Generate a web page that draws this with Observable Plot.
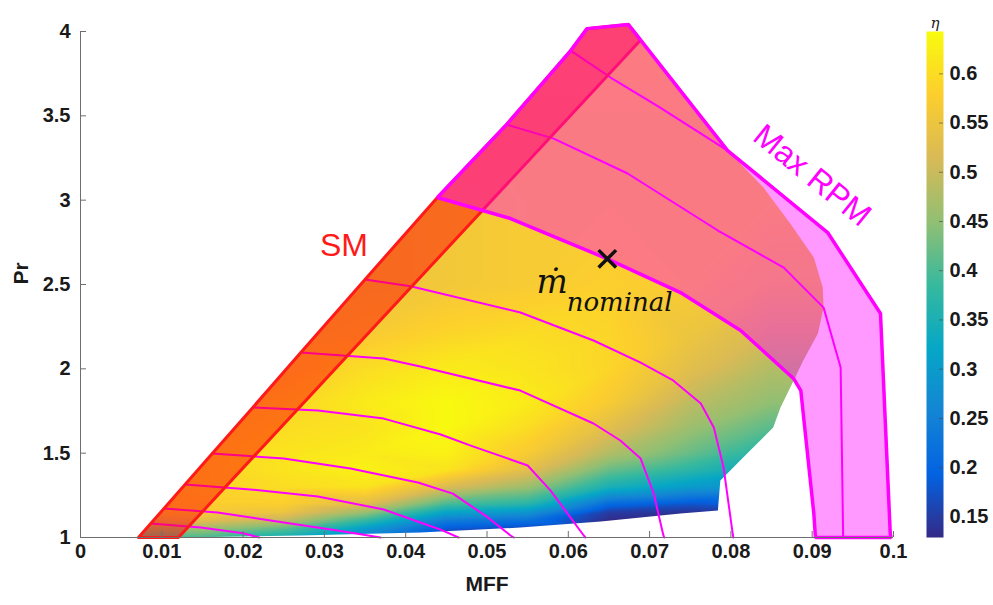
<!DOCTYPE html>
<html>
<head>
<meta charset="utf-8">
<script src="https://cdn.jsdelivr.net/npm/d3@7"></script>
<script src="https://cdn.jsdelivr.net/npm/@observablehq/plot@0.6"></script>
<style>
  body { margin: 0; background: #fff; }
  #chart { position: relative; width: 993px; height: 605px; }
  #chart svg { position: absolute; top: 0; }
</style>
</head>
<body>
<div id="chart"></div>
<script>
// ---- Compressor map data -------------------------------------------------
// Axis ticks
const xTicks = [0, 0.01, 0.02, 0.03, 0.04, 0.05, 0.06, 0.07, 0.08, 0.09, 0.1];
const yTicks = [1, 1.5, 2, 2.5, 3, 3.5, 4];
const etaTicks = [0.15, 0.2, 0.25, 0.3, 0.35, 0.4, 0.45, 0.5, 0.55, 0.6];
const etaRange = [0.129, 0.643];

// Parula colour stops
const parulaStops = ["#352a87", "#0363e1", "#1485d4", "#06a7c6", "#38b99e", "#92bf73", "#d9ba56", "#fcce2e", "#f9fb0e"];

// Isentropic efficiency samples: rows follow prGrid, columns follow mffGrid
const mffGrid = [0.005, 0.015, 0.025, 0.035, 0.045, 0.055, 0.065, 0.075, 0.085, 0.095];
const prGrid = [1.0, 1.05, 1.1, 1.15, 1.2, 1.3, 1.4, 1.5, 1.65, 1.8, 2.0, 2.2, 2.5, 3.0, 3.5, 4.0];
const etaGrid = [
  [0.40, 0.40, 0.34, 0.25, 0.15, 0.14, 0.13, 0.13, 0.13, 0.13],
  [0.45, 0.46, 0.41, 0.30, 0.18, 0.16, 0.13, 0.13, 0.13, 0.13],
  [0.52, 0.53, 0.49, 0.38, 0.24, 0.22, 0.13, 0.13, 0.13, 0.13],
  [0.56, 0.57, 0.55, 0.46, 0.32, 0.29, 0.15, 0.14, 0.15, 0.15],
  [0.57, 0.58, 0.58, 0.53, 0.40, 0.37, 0.21, 0.18, 0.20, 0.20],
  [0.57, 0.59, 0.60, 0.61, 0.52, 0.46, 0.35, 0.30, 0.28, 0.28],
  [0.57, 0.59, 0.61, 0.63, 0.61, 0.53, 0.42, 0.37, 0.32, 0.32],
  [0.57, 0.59, 0.61, 0.62, 0.63, 0.57, 0.48, 0.42, 0.36, 0.36],
  [0.57, 0.58, 0.60, 0.61, 0.64, 0.60, 0.53, 0.46, 0.41, 0.41],
  [0.56, 0.57, 0.59, 0.62, 0.64, 0.62, 0.57, 0.49, 0.45, 0.45],
  [0.56, 0.56, 0.57, 0.60, 0.62, 0.61, 0.59, 0.53, 0.48, 0.48],
  [0.555, 0.555, 0.56, 0.57, 0.59, 0.60, 0.59, 0.55, 0.51, 0.51],
  [0.555, 0.555, 0.555, 0.555, 0.56, 0.57, 0.58, 0.57, 0.55, 0.55],
  [0.56, 0.56, 0.56, 0.56, 0.56, 0.57, 0.57, 0.57, 0.57, 0.57],
  [0.57, 0.57, 0.57, 0.57, 0.57, 0.57, 0.57, 0.57, 0.57, 0.57],
  [0.58, 0.58, 0.58, 0.58, 0.58, 0.58, 0.58, 0.58, 0.58, 0.58]
];

// Surge line (MFF, Pr), bottom to top
const surgeLine = [[0.00713, 1.0], [0.00864, 1.083], [0.01027, 1.172], [0.01286, 1.314], [0.01621, 1.498],
  [0.0212, 1.771], [0.0271, 2.097], [0.0350, 2.530], [0.0439, 3.016], [0.0524, 3.448], [0.0603, 3.887], [0.0623, 4.017]];
// Surge-margin line, top to bottom
const surgeMarginLine = [[0.0689, 3.949], [0.01205, 1.0]];

// Constant-speed lines
const speedLine1 = [[0.00864, 1.083], [0.0148, 1.059], [0.0200, 1.025], [0.0220, 1.0]];
const speedLine2 = [[0.01027, 1.172], [0.01685, 1.148], [0.0250, 1.089], [0.0316, 1.041], [0.0369, 1.0]];
const speedLine3 = [[0.01286, 1.314], [0.0209, 1.285], [0.0292, 1.243], [0.0373, 1.166], [0.0418, 1.089], [0.0443, 1.047], [0.0465, 1.0]];
const speedLine4 = [[0.01621, 1.498], [0.0250, 1.468], [0.0332, 1.409], [0.0415, 1.326], [0.0458, 1.26], [0.0501, 1.119], [0.0529, 1.012], [0.0533, 1.0]];
const speedLine5 = [[0.0212, 1.771], [0.0292, 1.753], [0.0373, 1.705], [0.0443, 1.611], [0.0480, 1.545], [0.0550, 1.427], [0.0578, 1.279], [0.0619, 1.012], [0.0621, 1.0]];
const speedLine6 = [[0.0271, 2.097], [0.0373, 2.061], [0.0418, 2.014], [0.0541, 1.871], [0.0631, 1.676], [0.0664, 1.575], [0.0689, 1.468], [0.0705, 1.261], [0.0717, 1.012], [0.0718, 1.0]];
const speedLine7 = [[0.0350, 2.530], [0.0406, 2.490], [0.0541, 2.334], [0.0631, 2.168], [0.0689, 2.037], [0.0729, 1.931], [0.0763, 1.794], [0.0779, 1.652], [0.0791, 1.415], [0.0802, 1.03], [0.0803, 1.0]];
const nominalLine = [[0.0439, 3.016], [0.0529, 2.891], [0.0648, 2.652], [0.0738, 2.452], [0.0812, 2.227], [0.0877, 1.943], [0.0886, 1.871], [0.0902, 1.142], [0.0904, 1.0]];
const speedLine9 = [[0.0524, 3.448], [0.0582, 3.365], [0.0673, 3.158], [0.0784, 2.820], [0.0865, 2.600], [0.0914, 2.363], [0.0935, 2.008], [0.0938, 1.024], [0.0938, 1.0]];
const speedLine10 = [[0.0603, 3.887], [0.0652, 3.727], [0.0713, 3.549], [0.0796, 3.294]];
const maxLine = [[0.0623, 4.017], [0.0674, 4.041], [0.0796, 3.294], [0.0919, 2.808], [0.0984, 2.328], [0.0996, 1.024], [0.0997, 1.0]];

// Edge of the measured map on the choke side and along the bottom
const chokeEdge = [[0.0840, 3.075], [0.0873, 2.861], [0.0902, 2.660], [0.0913, 2.482], [0.0914, 2.363], [0.0907, 2.209],
  [0.0889, 2.049], [0.0879, 1.948], [0.0861, 1.771], [0.0852, 1.652], [0.0820, 1.498], [0.0787, 1.338], [0.0784, 1.160]];
const lowerEdge = [[0.0738, 1.142], [0.0689, 1.119], [0.0640, 1.095], [0.0541, 1.059], [0.0418, 1.030], [0.0271, 1.012], [0.01255, 1.0]];

// Nominal operating point and annotations
const nominalPoint = [{mff: 0.0648, pr: 2.652}];
const smLabel = [{text: "SM", mff: 0.0324, pr: 2.727}];
const maxLabel = [{text: "Max RPM", mff: 0.0900, pr: 3.146}];
const mdotLabel = [{text: "ṁ", mff: 0.0580, pr: 2.452}];
const subLabel = [{text: "nominal", mff: 0.0598, pr: 2.340}];

// ---- Derived tables ------------------------------------------------------
const etaSamples = prGrid.flatMap((pr, i) => mffGrid.map((mff, j) => ({mff, pr, eta: etaGrid[i][j]})));
const speedLines = [speedLine1, speedLine2, speedLine3, speedLine4, speedLine5, speedLine6, speedLine7, speedLine9, speedLine10];
const surgeBand = surgeLine.concat([maxLine[1]], surgeMarginLine);
const aboveNominal = nominalLine.concat(
  maxLine.slice().reverse(),
  surgeLine.filter(p => p[1] > nominalLine[0][1] && p[1] < maxLine[0][1]).reverse()
);
const mapBoundary = surgeLine.concat([maxLine[1], maxLine[2]], chokeEdge, lowerEdge);

const colorScale = {type: "linear", domain: etaRange, interpolate: d3.piecewise(d3.interpolateRgb, parulaStops)};
const px = d => d[0], py = d => d[1];
const tickFont = {fontWeight: "bold", fontSize: 20, fill: "#1a1a1a"};

// ---- Main map ------------------------------------------------------------
const main = Plot.plot({
  width: 993, height: 605,
  marginLeft: 80, marginRight: 100, marginTop: 31, marginBottom: 68,
  x: {domain: [0, 0.1], axis: null},
  y: {domain: [1, 4], axis: null},
  color: colorScale,
  style: {background: "transparent", fontFamily: "'Liberation Sans', Arial, sans-serif", overflow: "visible"},
  marks: [
    Plot.raster(etaSamples, {x: "mff", y: "pr", fill: "eta", interpolate: "barycentric", x1: 0, x2: 0.1, y1: 1, y2: 4.05}),
    ...speedLines.map(line => Plot.line(line, {x: px, y: py, stroke: "#ff00ff", strokeWidth: 2})),
    Plot.line(surgeBand, {x: px, y: py, curve: "linear-closed", fill: "#ff0000", fillOpacity: 0.47, stroke: "#ff1a1a", strokeWidth: 3}),
    Plot.line(aboveNominal, {x: px, y: py, curve: "linear-closed", fill: "#ff00ff", fillOpacity: 0.4, stroke: "#ff00ff", strokeWidth: 3.5, strokeLinejoin: "miter"}),
    Plot.dot(nominalPoint, {x: "mff", y: "pr", symbol: "times", r: 8, stroke: "#111", strokeWidth: 3.5}),
    Plot.text(smLabel, {x: "mff", y: "pr", text: "text", fill: "#ff1a1a", fontSize: 32}),
    Plot.text(maxLabel, {x: "mff", y: "pr", text: "text", fill: "#ff00ff", fontSize: 32, rotate: 39}),
    Plot.text(mdotLabel, {x: "mff", y: "pr", text: "text", fontFamily: "'DejaVu Serif', serif", fontStyle: "italic", fontSize: 33, lineAnchor: "bottom", fill: "#111"}),
    Plot.text(subLabel, {x: "mff", y: "pr", text: "text", fontFamily: "'DejaVu Serif', serif", fontStyle: "italic", fontSize: 26, lineAnchor: "bottom", textAnchor: "start", fill: "#111"}),
    // axes in the boxed-off style: left and bottom lines with inward ticks
    Plot.ruleY([1], {stroke: "#6e6e6e"}),
    Plot.ruleX([0], {stroke: "#6e6e6e"}),
    Plot.ruleX(xTicks, {x: d => d, insetTop: 500, stroke: "#6e6e6e"}),
    Plot.ruleY(yTicks, {y: d => d, insetRight: 807, stroke: "#6e6e6e"}),
    Plot.text(xTicks, {x: d => d, text: d => String(d), frameAnchor: "bottom", dy: 20, ...tickFont}),
    Plot.text(yTicks, {y: d => d, text: d => String(d), frameAnchor: "left", dx: -10, textAnchor: "end", ...tickFont}),
    Plot.text(["MFF"], {frameAnchor: "bottom", dy: 53, fontWeight: "bold", fontSize: 21, fill: "#1a1a1a"}),
    Plot.text(["Pr"], {frameAnchor: "left", dx: -59, rotate: -90, fontWeight: "bold", fontSize: 21, fill: "#1a1a1a"})
  ]
});

// Clip the efficiency field to the measured region of the map
const sx = main.scale("x"), sy = main.scale("y");
const svgNS = "http://www.w3.org/2000/svg";
const defs = document.createElementNS(svgNS, "defs");
const clip = document.createElementNS(svgNS, "clipPath");
clip.setAttribute("id", "eta-clip");
const clipPath = document.createElementNS(svgNS, "path");
clipPath.setAttribute("d", "M" + mapBoundary.map(([m, p]) => `${sx.apply(m)},${sy.apply(p)}`).join("L") + "Z");
clip.appendChild(clipPath);
defs.appendChild(clip);
main.insertBefore(defs, main.firstChild);
const rasterGroup = main.querySelector('g[aria-label="raster"]');
if (rasterGroup) rasterGroup.setAttribute("clip-path", "url(#eta-clip)");

// ---- Colour bar ----------------------------------------------------------
const bar = Plot.plot({
  width: 93, height: 605,
  marginLeft: 26, marginRight: 50, marginTop: 31, marginBottom: 68,
  x: {domain: [0, 1], axis: null},
  y: {domain: etaRange, axis: null},
  color: colorScale,
  style: {background: "transparent", fontFamily: "'Liberation Sans', Arial, sans-serif", overflow: "visible"},
  marks: [
    Plot.raster({x1: 0, x2: 1, y1: etaRange[0], y2: etaRange[1], fill: (x, y) => y}),
    Plot.ruleY(etaTicks, {y: d => d, insetLeft: 13, stroke: "#444", strokeOpacity: 0.6}),
    Plot.text(etaTicks, {y: d => d, text: d => String(d), frameAnchor: "right", dx: 6, textAnchor: "start", ...tickFont}),
    Plot.text(["η"], {frameAnchor: "top", dy: -14, fontFamily: "'DejaVu Serif', serif", fontStyle: "italic", fontSize: 15, fill: "#1a1a1a"})
  ]
});
bar.style.left = "900px";

const chart = document.getElementById("chart");
chart.appendChild(main);
chart.appendChild(bar);
</script>
</body>
</html>
